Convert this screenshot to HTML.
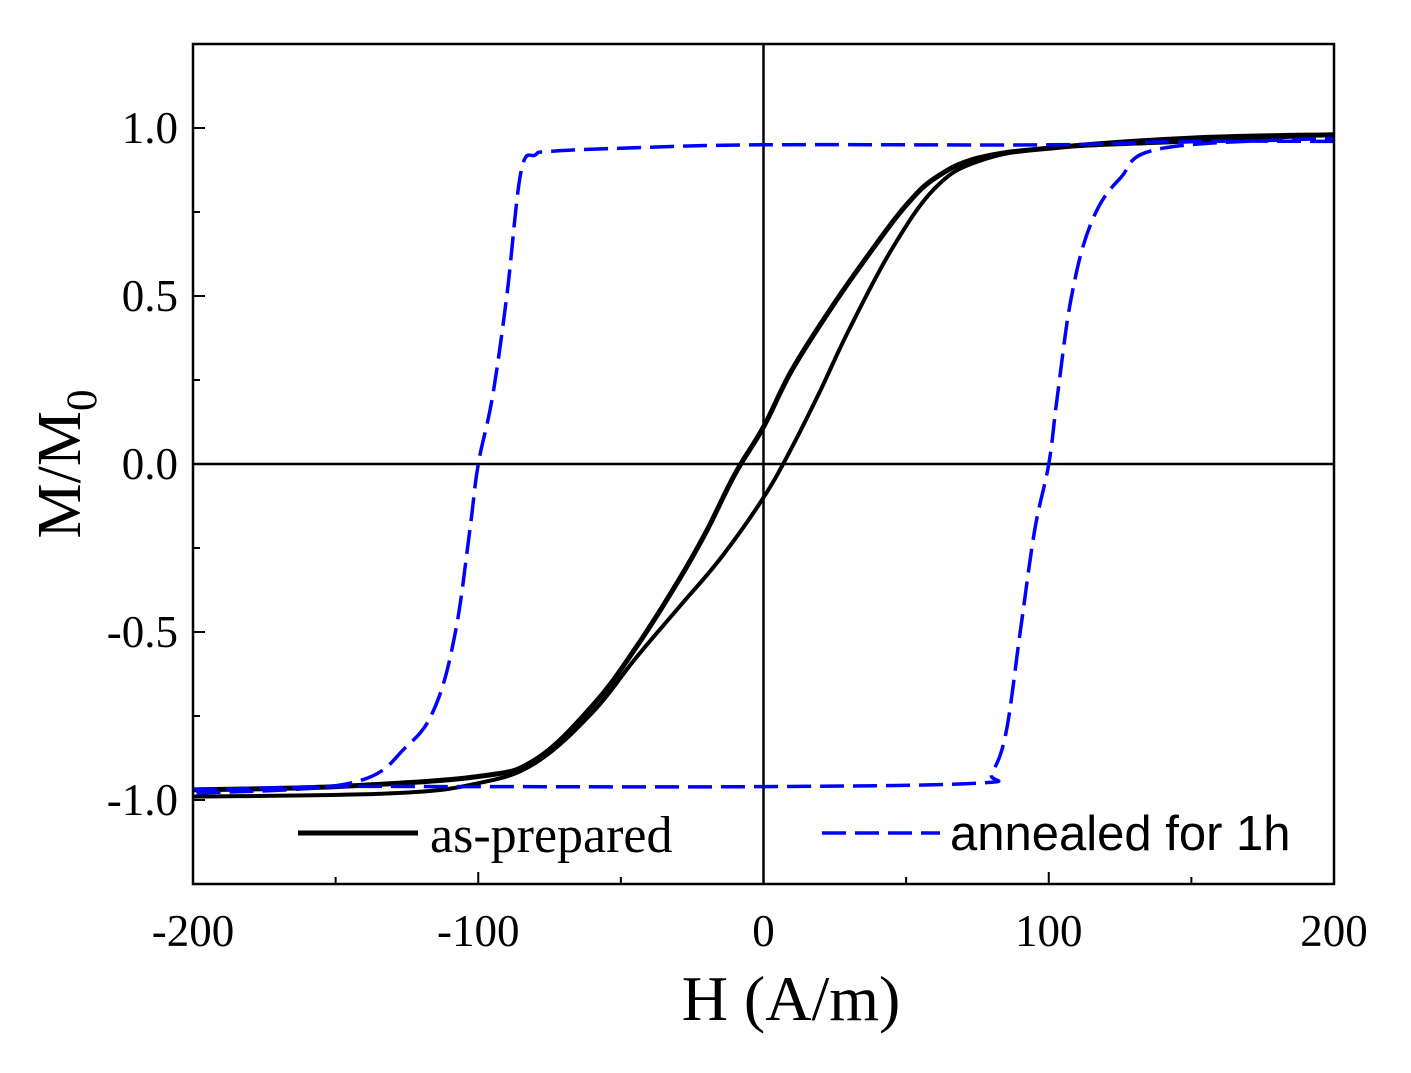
<!DOCTYPE html>
<html><head><meta charset="utf-8"><style>
body{margin:0;background:#fff}
svg{display:block}
text{font-family:"Liberation Serif",serif;fill:#000}
</style></head><body>
<svg id="chart" width="1411" height="1073" viewBox="0 0 1411 1073"></svg>
<script>
const xTicks=[-200,-100,0,100,200];
const xTickLabels=["-200","-100","0","100","200"];
const yTicks=[-1,-0.5,0,0.5,1];
const yTickLabels=["-1.0","-0.5","0.0","0.5","1.0"];
const blackDownH=[200,150,100,75,60,50,40,25,10,0,-10,-20,-30,-45,-60,-80,-100,-150,-200];
const blackDownM=[0.98,0.97,0.94,0.91,0.85,0.77,0.66,0.48,0.28,0.11,-0.03,-0.2,-0.35,-0.55,-0.72,-0.88,-0.93,-0.96,-0.97];
const blackUpH=[-200,-130,-100,-80,-60,-45,-30,-15,0,10,20,30,45,60,75,100,150,200];
const blackUpM=[-0.99,-0.98,-0.95,-0.89,-0.74,-0.58,-0.43,-0.28,-0.1,0.05,0.22,0.4,0.64,0.82,0.9,0.94,0.96,0.98];
const blueDownH=[200,150,100,0,-50,-75,-80,-85,-90,-95,-100,-103,-108,-115,-125,-145,-200];
const blueDownM=[0.96,0.96,0.95,0.95,0.94,0.93,0.92,0.87,0.5,0.2,0,-0.2,-0.5,-0.72,-0.84,-0.95,-0.98];
const blueUpH=[-200,-150,-100,0,75,80,85,90,95,100,103,108,115,125,140,200];
const blueUpM=[-0.97,-0.96,-0.96,-0.96,-0.95,-0.92,-0.8,-0.5,-0.2,0,0.2,0.5,0.72,0.85,0.94,0.97];

const L=193,R=1334,T=44,B=884;
const xs=h=>L+(h+200)/400*(R-L);
const ys=m=>T+(1.25-m)/2.5*(B-T);
const svg=document.getElementById('chart');
const NS='http://www.w3.org/2000/svg';
function mk(tag,attrs,txt){const e=document.createElementNS(NS,tag);for(const k in attrs)e.setAttribute(k,attrs[k]);if(txt!==undefined)e.textContent=txt;svg.appendChild(e);return e;}

let e=mk('line',{x1:xs(0),x2:xs(0),y1:T,y2:B,stroke:'#000','stroke-width':2.5});


e=mk('line',{x1:L,x2:R,y1:ys(0),y2:ys(0),stroke:'#000','stroke-width':2.5});



function path(H,M,color,dash,w,name){
  const P=H.map((h,i)=>[xs(h),ys(M[i])]);
  let d='M'+P[0][0].toFixed(1)+','+P[0][1].toFixed(1);
  const k=0.18;
  for(let i=0;i<P.length-1;i++){
    const p0=P[Math.max(0,i-1)],p1=P[i],p2=P[i+1],p3=P[Math.min(P.length-1,i+2)];
    const c1=[p1[0]+(p2[0]-p0[0])*k,p1[1]+(p2[1]-p0[1])*k];
    const c2=[p2[0]-(p3[0]-p1[0])*k,p2[1]-(p3[1]-p1[1])*k];
    d+='C'+c1.map(v=>v.toFixed(1)).join(',')+' '+c2.map(v=>v.toFixed(1)).join(',')+' '+p2.map(v=>v.toFixed(1)).join(',');
  }
  const p=mk('path',{d:d,fill:'none',stroke:color,'stroke-width':w,'stroke-dasharray':dash,'stroke-linejoin':'round'});
  
  
}
path(blackDownH,blackDownM,'#000','none',5,'as-prepared-descending');
path(blackUpH,blackUpM,'#000','none',4,'as-prepared-ascending');
path(blueDownH,blueDownM,'#0000ff','24,9',3.5,'annealed-descending');
path(blueUpH,blueUpM,'#0000ff','24,9',3.5,'annealed-ascending');

e=mk('rect',{x:L,y:T,width:R-L,height:B-T,fill:'none',stroke:'#000','stroke-width':2.5});



for(let v=-200;v<=200;v+=50){
  const major=v%100===0;
  const t=mk('line',{x1:xs(v),x2:xs(v),y1:B,y2:B-(major?12:7),stroke:'#000','stroke-width':2});
  
  
}
xTicks.forEach((v,i)=>{
  const t=mk('text',{x:xs(v),y:946,'text-anchor':'middle','font-size':45},xTickLabels[i]);
  
  
});
for(let k=-5;k<=5;k++){
  const v=k*0.25;const major=k%2===0;
  const t=mk('line',{x1:L,x2:L+(major?12:7),y1:ys(v),y2:ys(v),stroke:'#000','stroke-width':2});
  
  
}
yTicks.forEach((v,i)=>{
  const t=mk('text',{x:178,y:ys(v)+15,'text-anchor':'end','font-size':45},yTickLabels[i]);
  
  
});
e=mk('text',{x:791,y:1020,'text-anchor':'middle','font-size':64},'H (A/m)');


e=mk('text',{transform:'translate(80,464) rotate(-90)','text-anchor':'middle','font-size':62});


e.innerHTML='M/M<tspan font-size="43" dy="16">0</tspan>';

e=mk('line',{x1:298,x2:418,y1:833,y2:833,stroke:'#000','stroke-width':5});


e=mk('text',{x:430,y:852,'font-size':52},'as-prepared');


e=mk('line',{x1:822,x2:940,y1:833,y2:833,stroke:'#0000ff','stroke-width':3.5,'stroke-dasharray':'24,9'});


e=mk('text',{x:950,y:850,'font-size':49,style:'font-family:"Liberation Sans",sans-serif'},'annealed for 1h');


</script>
</body></html>
